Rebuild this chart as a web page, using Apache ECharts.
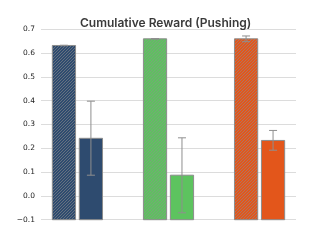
<!DOCTYPE html>
<html>
<head>
<meta charset="utf-8">
<script src="https://cdn.jsdelivr.net/npm/echarts@6/dist/echarts.min.js"></script>
<style>html,body{margin:0;padding:0;background:#fff;}#c{width:329px;height:247px;}</style>
</head>
<body>
<div id="c"></div>
<script>
var categories = ['Blue', 'Green', 'Orange'];
var colors = ['#2e4b6f', '#5dc35f', '#e3561b'];
var hatchedValues = [0.632, 0.660, 0.660];
var hatchedLow = [0.631, 0.659, 0.648];
var hatchedHigh = [0.633, 0.661, 0.672];
var solidValues = [0.242, 0.087, 0.233];
var solidLow = [0.087, -0.071, 0.192];
var solidHigh = [0.398, 0.244, 0.275];
var yTicks = [-0.1, 0.0, 0.1, 0.2, 0.3, 0.4, 0.5, 0.6, 0.7];

function makePattern(color) {
  var n = 3;
  var c = document.createElement('canvas');
  c.width = n; c.height = n;
  var g = c.getContext('2d');
  g.fillStyle = color;
  g.fillRect(0, 0, n, n);
  g.strokeStyle = 'rgba(140,140,140,0.65)';
  g.lineWidth = 0.9;
  g.beginPath();
  g.moveTo(-1, n + 1); g.lineTo(n + 1, -1);
  g.moveTo(-1, 1); g.lineTo(1, -1);
  g.moveTo(n - 1, n + 1); g.lineTo(n + 1, n - 1);
  g.stroke();
  return c;
}
var patterns = colors.map(makePattern);

var BAR_W = 0.255, OFF = 0.148, BASE = -0.1;

function barRender(offset, hatched) {
  return function (params, api) {
    var i = api.value(0);
    var v = api.value(1);
    var x = i + offset;
    var p1 = api.coord([x - BAR_W / 2, v]);
    var p2 = api.coord([x + BAR_W / 2, BASE]);
    var fill = hatched ? { image: patterns[i], repeat: 'repeat' } : colors[i];
    return {
      type: 'rect',
      shape: { x: p1[0], y: p1[1], width: p2[0] - p1[0], height: p2[1] - p1[1] },
      style: { fill: fill, stroke: '#8c8c8c', lineWidth: 1 }
    };
  };
}
function errRender(offset) {
  return function (params, api) {
    var i = api.value(0);
    var x = i + offset;
    var lo = api.coord([x, api.value(1)]);
    var hi = api.coord([x, api.value(2)]);
    var cap = 4;
    var st = { stroke: '#8f8f8f', lineWidth: 1 };
    return {
      type: 'group',
      children: [
        { type: 'line', shape: { x1: lo[0], y1: lo[1], x2: hi[0], y2: hi[1] }, style: st },
        { type: 'line', shape: { x1: lo[0] - cap, y1: lo[1], x2: lo[0] + cap, y2: lo[1] }, style: st },
        { type: 'line', shape: { x1: hi[0] - cap, y1: hi[1], x2: hi[0] + cap, y2: hi[1] }, style: st }
      ]
    };
  };
}

var chart = echarts.init(document.getElementById('c'), null, { renderer: 'canvas' });
chart.setOption({
  animation: false,
  backgroundColor: '#fff',
  title: {
    text: 'Cumulative Reward (Pushing)',
    left: 75, top: 12.5,
    textStyle: { fontFamily: 'Inter', fontSize: 12, fontWeight: 600, color: '#3a3a3a' }
  },
  grid: { left: 41, right: 33, top: 29.3, bottom: 27.3 },
  xAxis: {
    type: 'value', min: -0.4, max: 2.4,
    show: false, splitLine: { show: false }
  },
  yAxis: {
    type: 'value', min: yTicks[0], max: yTicks[yTicks.length - 1], interval: 0.1,
    axisLine: { show: false }, axisTick: { show: false },
    axisLabel: {
      fontFamily: 'DejaVu Sans', fontSize: 7.5, color: '#222', margin: 6,
      formatter: function (v) { var s = v.toFixed(1); return v < 0 ? '\u2212' + s.slice(1) : s; }
    },
    splitLine: { lineStyle: { color: '#dcdcdc', width: 1.2 } }
  },
  series: [
    { type: 'custom', renderItem: barRender(-OFF, true), data: categories.map(function (c, i) { return [i, hatchedValues[i]]; }), z: 2 },
    { type: 'custom', renderItem: barRender(OFF, false), data: categories.map(function (c, i) { return [i, solidValues[i]]; }), z: 2 },
    { type: 'custom', renderItem: errRender(-OFF), data: categories.map(function (c, i) { return [i, hatchedLow[i], hatchedHigh[i]]; }), z: 3 },
    { type: 'custom', renderItem: errRender(OFF), data: categories.map(function (c, i) { return [i, solidLow[i], solidHigh[i]]; }), z: 3 }
  ]
});
</script>
</body>
</html>
